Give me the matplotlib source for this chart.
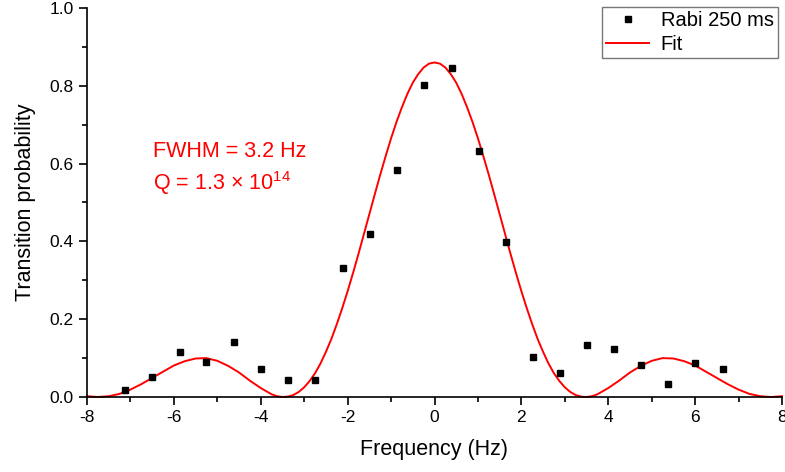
import matplotlib
matplotlib.use("Agg")
import matplotlib.pyplot as plt
from matplotlib.ticker import MultipleLocator, FormatStrFormatter

plt.rcParams['font.family'] = ['Liberation Sans', 'DejaVu Sans']
plt.rcParams['mathtext.fontset'] = 'custom'
plt.rcParams['mathtext.rm'] = 'Liberation Sans'
plt.rcParams['mathtext.default'] = 'regular'
plt.rcParams['axes.unicode_minus'] = False

# measured points (Rabi 250 ms)
freq = [-7.13, -6.51, -5.86, -5.26, -4.62, -4.00, -3.38, -2.75, -2.11, -1.49,
        -0.86, -0.24, 0.40, 1.03, 1.65, 2.27, 2.89, 3.51, 4.14, 4.76,
        5.38, 6.00, 6.64]
prob = [0.018, 0.051, 0.116, 0.090, 0.141, 0.072, 0.044, 0.044, 0.332, 0.419,
        0.584, 0.802, 0.846, 0.632, 0.398, 0.103, 0.062, 0.134, 0.123, 0.082,
        0.033, 0.087, 0.072]

# fit curve (one half, mirrored about 0)
fit_f_half = [0.0, 0.125, 0.25, 0.375, 0.5, 0.625, 0.75, 0.875, 1.0, 1.125,
              1.25, 1.375, 1.5, 1.625, 1.75, 1.875, 2.0, 2.125, 2.25, 2.375,
              2.5, 2.625, 2.75, 2.875, 3.0, 3.125, 3.25, 3.375, 3.5, 3.625,
              3.75, 4.0, 4.25, 4.5, 4.75, 5.0, 5.25, 5.5, 5.75,
              6.0, 6.25, 6.5, 6.75, 7.0, 7.25, 7.5, 7.75, 8.0]
fit_p_half = [0.860, 0.857, 0.847, 0.830, 0.808, 0.779, 0.745, 0.707, 0.665, 0.619,
              0.571, 0.521, 0.470, 0.419, 0.368, 0.319, 0.272, 0.228, 0.187, 0.149,
              0.116, 0.086, 0.061, 0.041, 0.025, 0.013, 0.005, 0.001, 0.000, 0.002,
              0.007, 0.023, 0.042, 0.063, 0.080, 0.093, 0.100, 0.099, 0.092,
              0.081, 0.065, 0.049, 0.033, 0.019, 0.008, 0.002, 0.000, 0.002]
fit_f = [-f for f in fit_f_half[:0:-1]] + fit_f_half
fit_p = fit_p_half[:0:-1] + fit_p_half

fig = plt.figure(figsize=(7.85, 4.72), dpi=100)
ax = fig.add_axes([87 / 785, 1 - 397 / 472, 695 / 785, 389 / 472])

ax.plot(freq, prob, 's', color='black', markersize=5, label='Rabi 250 ms', zorder=3)
ax.plot(fit_f, fit_p, '-', color='red', linewidth=1.4, label='Fit', clip_on=False)

ax.set_xlim(-8, 8)
ax.set_ylim(0, 1.0)
ax.xaxis.set_major_locator(MultipleLocator(2))
ax.xaxis.set_minor_locator(MultipleLocator(1))
ax.yaxis.set_major_locator(MultipleLocator(0.2))
ax.yaxis.set_minor_locator(MultipleLocator(0.1))
ax.yaxis.set_major_formatter(FormatStrFormatter('%.1f'))

for side in ('top', 'right'):
    ax.spines[side].set_visible(False)
for side in ('left', 'bottom'):
    ax.spines[side].set_linewidth(1.2)
ax.tick_params(which='major', direction='out', length=6, width=1.2, labelsize=12.5)
ax.tick_params(which='minor', direction='out', length=3.5, width=1.2)

ax.set_xlabel('Frequency (Hz)', fontsize=15.5, labelpad=10)
ax.set_ylabel('Transition probability', fontsize=15.5, labelpad=10)

ax.text(-6.49, 0.617, 'FWHM = 3.2 Hz', color='red', fontsize=15.5, va='baseline')
ax.text(-6.49, 0.532, 'Q = 1.3 × 10$^{14}$', color='red', fontsize=15.5, va='baseline')

leg = ax.legend(loc='upper right', bbox_to_anchor=(0.994, 1.003), borderaxespad=0,
                fontsize=14.5, fancybox=False, framealpha=1, handlelength=2.1,
                handletextpad=0.6, borderpad=0.2, labelspacing=0.25)
leg.get_frame().set_edgecolor('#777777')
leg.get_frame().set_linewidth(1.0)

fig.savefig('out.png', dpi=100)
